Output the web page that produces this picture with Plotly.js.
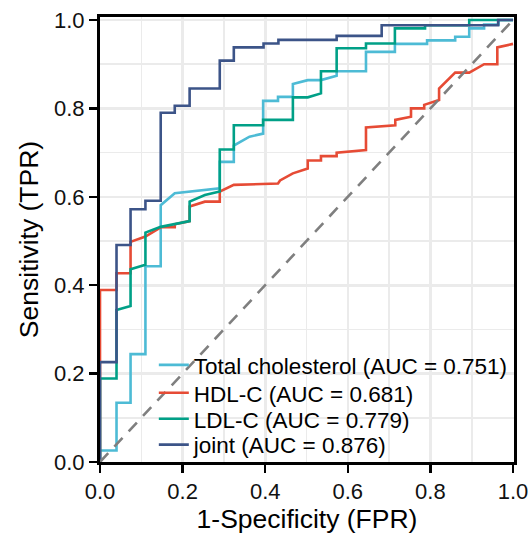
<!DOCTYPE html>
<html>
<head>
<meta charset="utf-8">
<script src="https://cdn.plot.ly/plotly-3.0.1.min.js"></script>
<style>html,body{margin:0;padding:0;background:#fff;}#chart{width:531px;height:538px;}</style>
</head>
<body>
<div id="chart"></div>
<script>
// ROC curve vertices (FPR, TPR)
const tcFpr  = [0,0,0.040,0.040,0.074,0.074,0.110,0.110,0.147,0.147,0.181,0.254,0.290,0.290,0.324,0.324,0.362,0.395,0.395,0.431,0.431,0.467,0.467,0.503,0.535,0.573,0.573,0.644,0.644,0.714,0.714,0.792,0.792,0.860,0.860,0.894,0.894,0.930,0.930,0.965,0.965,1.0];
const tcTpr  = [0,0.026,0.026,0.134,0.134,0.244,0.244,0.443,0.443,0.581,0.608,0.615,0.619,0.679,0.679,0.716,0.736,0.743,0.817,0.817,0.826,0.826,0.855,0.864,0.864,0.874,0.884,0.884,0.928,0.928,0.946,0.946,0.954,0.954,0.962,0.962,0.981,0.981,0.990,0.990,1.0,1.0];

const hdlFpr = [0,0,0.040,0.040,0.074,0.074,0.110,0.147,0.181,0.181,0.217,0.217,0.254,0.290,0.290,0.324,0.431,0.436,0.467,0.503,0.503,0.535,0.535,0.573,0.573,0.644,0.644,0.715,0.715,0.753,0.753,0.785,0.785,0.821,0.821,0.860,0.894,0.930,0.962,0.962,1.0];
const hdlTpr = [0,0.389,0.389,0.427,0.427,0.498,0.510,0.531,0.531,0.538,0.545,0.578,0.589,0.589,0.612,0.627,0.630,0.637,0.653,0.664,0.682,0.682,0.692,0.692,0.700,0.706,0.757,0.762,0.774,0.781,0.800,0.800,0.808,0.819,0.845,0.881,0.881,0.900,0.900,0.938,0.946];

const ldlFpr = [0,0,0.040,0.040,0.074,0.074,0.110,0.110,0.147,0.217,0.217,0.254,0.290,0.290,0.324,0.324,0.395,0.395,0.467,0.467,0.503,0.535,0.535,0.573,0.573,0.644,0.644,0.714,0.714,0.787,0.787,0.894,0.894,1.0];
const ldlTpr = [0,0.189,0.189,0.344,0.353,0.436,0.446,0.519,0.532,0.545,0.589,0.604,0.612,0.707,0.707,0.762,0.762,0.774,0.774,0.825,0.825,0.834,0.884,0.884,0.936,0.936,0.947,0.947,0.981,0.981,0.988,0.988,1.0,1.0];

const jointFpr = [0,0,0.040,0.040,0.074,0.074,0.110,0.110,0.147,0.147,0.181,0.181,0.217,0.217,0.290,0.290,0.324,0.324,0.396,0.396,0.432,0.432,0.573,0.573,0.682,0.682,0.964,0.964,1.0];
const jointTpr = [0,0.226,0.226,0.491,0.491,0.572,0.572,0.591,0.591,0.790,0.790,0.806,0.806,0.845,0.845,0.908,0.908,0.938,0.938,0.947,0.947,0.955,0.955,0.964,0.964,0.988,0.988,1.0,1.0];

const seriesNames = ["Total cholesterol", "HDL-C", "LDL-C", "joint"];
const aucValues   = ["0.751", "0.681", "0.779", "0.876"];
const seriesColors = ["#4DBBD5", "#E64B35", "#00A087", "#3C5488"];
const tickVals   = [0, 0.2, 0.4, 0.6, 0.8, 1.0];
const tickLabels = ["0.0", "0.2", "0.4", "0.6", "0.8", "1.0"];
const diagX = [0, 1];
const diagY = [0, 1];

const FONT = "Liberation Sans, Arial, sans-serif";
const xs = [tcFpr, hdlFpr, ldlFpr, jointFpr];
const ys = [tcTpr, hdlTpr, ldlTpr, jointTpr];
const legendIds = ["legend", "legend2", "legend3", "legend4"];
const legendY = [0.2175, 0.1547, 0.0964, 0.0381];

const traces = seriesNames.map((n, i) => ({
  type: "scatter", mode: "lines",
  x: xs[i], y: ys[i],
  name: n + " (AUC = " + aucValues[i] + ")",
  line: {color: seriesColors[i], width: 2.6},
  legend: legendIds[i],
  hoverinfo: "skip"
}));
traces.push({
  type: "scatter", mode: "lines", x: diagX, y: diagY,
  line: {color: "#7f7f7f", width: 2.6, dash: "12px,9px"},
  showlegend: false, hoverinfo: "skip"
});

const gridC = "#ebebeb";
const axisCommon = {
  showline: true, linecolor: "#000", linewidth: 3, mirror: true,
  ticks: "outside", ticklen: 8, tickwidth: 2.5, tickcolor: "#000",
  tickvals: tickVals, ticktext: tickLabels,
  tickfont: {family: FONT, size: 22, color: "#111"},
  showgrid: true, gridcolor: gridC, gridwidth: 2.6,
  minor: {dtick: 0.1, tick0: 0, showgrid: true, gridcolor: gridC, gridwidth: 1.6, ticks: ""},
  zeroline: false, fixedrange: true
};

const layout = {
  width: 531, height: 538,
  margin: {l: 100, r: 17, t: 17, b: 76, pad: 0},
  paper_bgcolor: "#fff", plot_bgcolor: "#fff",
  font: {family: FONT, color: "#000"},
  xaxis: Object.assign({}, axisCommon, {
    range: [0, 1.0024],
    title: {text: "1-Specificity (FPR)", font: {family: FONT, size: 26.5, color: "#000"}, standoff: 6}
  }),
  yaxis: Object.assign({}, axisCommon, {
    range: [0, 1.0068],
    title: {text: "Sensitivity (TPR)", font: {family: FONT, size: 26.5, color: "#000"}, standoff: 8}
  }),
  showlegend: true
};
legendIds.forEach((id, i) => {
  layout[id] = {
    x: 0.130, xanchor: "left", y: legendY[i], yanchor: "middle",
    bgcolor: "rgba(0,0,0,0)", borderwidth: 0,
    font: {family: FONT, size: 22.5, color: "#000"}
  };
});

Plotly.newPlot("chart", traces, layout, {displayModeBar: false, staticPlot: true});
</script>
</body>
</html>
